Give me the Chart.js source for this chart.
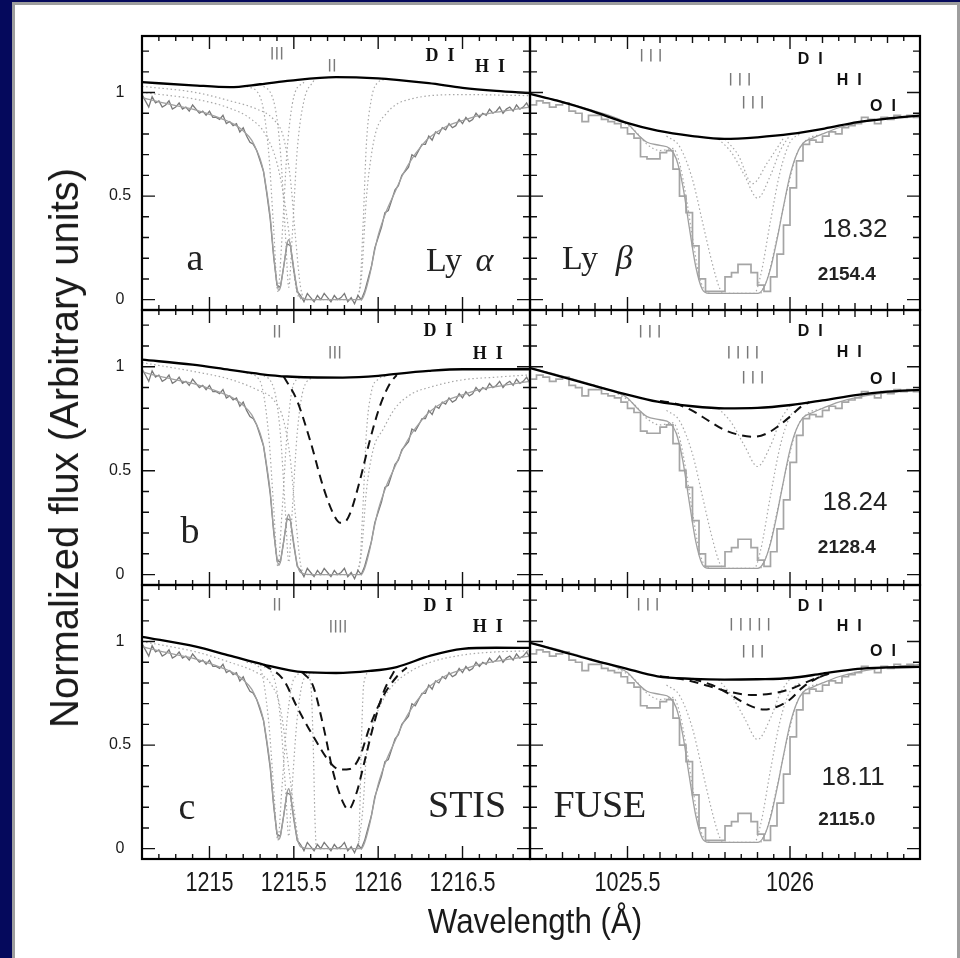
<!DOCTYPE html>
<html>
<head>
<meta charset="utf-8">
<script src="https://cdn.jsdelivr.net/npm/chart.js@4.4.1/dist/chart.umd.min.js"></script>
<style>
 html,body{margin:0;padding:0;width:960px;height:958px;overflow:hidden;background:#05095c;}
 #paper{position:absolute;left:12px;top:2px;width:948px;height:960px;box-sizing:border-box;background:#fff;border:3px solid #9e9e9e;}
 canvas{position:absolute;left:0;top:0;}
 .ttl{position:absolute;font-family:"Liberation Sans","DejaVu Sans",sans-serif;color:#1a1a1a;white-space:nowrap;line-height:1;}
 #ytitle{left:64px;top:448px;font-size:40px;transform:translate(-50%,-50%) rotate(-90deg);}
 #xtitle{left:535px;top:920px;font-size:34px;transform:translate(-50%,-50%) scale(0.92,1.05);}
</style>
</head>
<body>
<div id="paper"></div>
<canvas id="cLa" width="960" height="958"></canvas>
<canvas id="cRa" width="960" height="958"></canvas>
<canvas id="cLb" width="960" height="958"></canvas>
<canvas id="cRb" width="960" height="958"></canvas>
<canvas id="cLc" width="960" height="958"></canvas>
<canvas id="cRc" width="960" height="958"></canvas>
<div id="ytitle" class="ttl">Normalized flux (Arbitrary units)</div>
<div id="xtitle" class="ttl">Wavelength (Å)</div>
<script>
// ================= DATA =================
const xTicksLeft = [1215, 1215.5, 1216, 1216.5];
const xTickLabelsLeft = ['1215', '1215.5', '1216', '1216.5'];
const xTicksRight = [1025.5, 1026];
const xTickLabelsRight = ['1025.5', '1026'];
const yTicks = [0, 0.5, 1];
const yTickLabels = ['0', '0.5', '1'];

// STIS Ly-alpha spectrum (same data in the three left panels)
const stisSpectrum = [
[1214.60,0.99],[1214.62,0.96],[1214.64,0.93],[1214.66,0.98],[1214.68,0.95],[1214.70,0.96],[1214.72,0.93],[1214.74,0.94],[1214.76,0.96],[1214.78,0.92],
[1214.80,0.93],[1214.82,0.95],[1214.84,0.92],[1214.86,0.93],[1214.88,0.91],[1214.90,0.94],[1214.92,0.92],[1214.94,0.90],[1214.96,0.91],[1214.98,0.89],
[1215.00,0.91],[1215.02,0.88],[1215.04,0.88],[1215.06,0.87],[1215.08,0.89],[1215.10,0.85],[1215.12,0.86],[1215.14,0.84],[1215.16,0.85],[1215.18,0.81],
[1215.20,0.83],[1215.22,0.79],[1215.24,0.76],[1215.26,0.75],[1215.28,0.72],[1215.30,0.67],[1215.32,0.62],[1215.34,0.51],[1215.36,0.39],[1215.38,0.21],
[1215.40,0.07],[1215.42,0.06],[1215.44,0.16],[1215.46,0.27],[1215.48,0.26],[1215.50,0.14],[1215.52,0.04],[1215.54,0.02],[1215.56,-0.01],[1215.58,0.03],
[1215.60,0.01],[1215.62,-0.01],[1215.64,0.02],[1215.66,0.00],[1215.68,0.03],[1215.70,0.01],[1215.72,-0.01],[1215.74,0.02],[1215.76,0.00],[1215.78,0.01],
[1215.80,0.03],[1215.82,-0.01],[1215.84,0.01],[1215.86,-0.02],[1215.88,0.02],[1215.90,0.00],[1215.92,0.04],[1215.94,0.10],[1215.96,0.16],[1215.98,0.25],
[1216.00,0.30],[1216.02,0.35],[1216.04,0.42],[1216.06,0.43],[1216.08,0.48],[1216.10,0.53],[1216.12,0.55],[1216.14,0.60],[1216.16,0.62],[1216.18,0.64],
[1216.20,0.70],[1216.22,0.69],[1216.24,0.72],[1216.26,0.75],[1216.28,0.75],[1216.30,0.79],[1216.32,0.77],[1216.34,0.81],[1216.36,0.80],[1216.38,0.83],
[1216.40,0.82],[1216.42,0.85],[1216.44,0.83],[1216.46,0.84],[1216.48,0.87],[1216.50,0.85],[1216.52,0.88],[1216.54,0.86],[1216.56,0.87],[1216.58,0.90],
[1216.60,0.88],[1216.62,0.90],[1216.64,0.89],[1216.66,0.92],[1216.68,0.90],[1216.70,0.91],[1216.72,0.93],[1216.74,0.90],[1216.76,0.92],[1216.78,0.93],
[1216.80,0.91],[1216.82,0.94],[1216.84,0.92],[1216.86,0.93],[1216.88,0.95],[1216.90,0.92]
];

// FUSE Ly-beta spectrum (histogram, bin left edges)
const fuseWave = [1025.18,1025.20,1025.22,1025.24,1025.26,1025.28,1025.30,1025.32,1025.34,1025.36,1025.38,1025.40,1025.42,1025.44,1025.46,1025.48,1025.50,1025.52,1025.54,1025.56,1025.58,1025.60,1025.62,1025.64,1025.66,1025.68,1025.70,1025.72,1025.74,1025.76,1025.78,1025.80,1025.82,1025.84,1025.86,1025.88,1025.90,1025.92,1025.94,1025.96,1025.98,1026.00,1026.02,1026.04,1026.06,1026.08,1026.10,1026.12,1026.14,1026.16,1026.18,1026.20,1026.22,1026.24,1026.26,1026.28,1026.30,1026.32,1026.34,1026.36,1026.38,1026.40];
const fuseFlux = [0.95,0.94,0.96,0.95,0.93,0.94,0.95,0.91,0.90,0.86,0.89,0.89,0.87,0.86,0.85,0.83,0.80,0.78,0.69,0.68,0.68,0.71,0.72,0.63,0.50,0.42,0.26,0.10,0.04,0.04,0.04,0.11,0.13,0.17,0.17,0.13,0.07,0.04,0.11,0.22,0.36,0.54,0.67,0.75,0.77,0.76,0.79,0.81,0.80,0.83,0.84,0.85,0.88,0.87,0.85,0.88,0.87,0.89,0.88,0.89,0.88,0.88];

// total model profiles
const modelLya = [[1214.6,0.975],[1214.7,0.955],[1214.8,0.937],[1214.9,0.92],[1215.0,0.895],[1215.1,0.865],[1215.15,0.845],[1215.2,0.815],[1215.25,0.77],[1215.28,0.72],[1215.30,0.68],[1215.32,0.62],[1215.34,0.52],[1215.36,0.40],[1215.38,0.22],[1215.40,0.08],[1215.41,0.045],[1215.42,0.06],[1215.44,0.16],[1215.46,0.27],[1215.47,0.29],[1215.48,0.26],[1215.50,0.15],[1215.52,0.05],[1215.54,0.01],[1215.6,0],[1215.9,0],[1215.92,0.03],[1215.95,0.12],[1215.98,0.24],[1216.0,0.31],[1216.05,0.43],[1216.1,0.52],[1216.15,0.61],[1216.2,0.68],[1216.25,0.735],[1216.3,0.78],[1216.4,0.835],[1216.5,0.865],[1216.6,0.89],[1216.7,0.905],[1216.8,0.918],[1216.9,0.93]];
const modelLyb = [[1025.2,0.994],[1025.3,0.955],[1025.4,0.91],[1025.46,0.88],[1025.5,0.85],[1025.53,0.80],[1025.56,0.76],[1025.6,0.745],[1025.63,0.73],[1025.65,0.68],[1025.67,0.55],[1025.69,0.35],[1025.71,0.16],[1025.73,0.05],[1025.75,0.03],[1025.85,0.03],[1025.9,0.03],[1025.92,0.06],[1025.94,0.15],[1025.96,0.29],[1025.98,0.45],[1026.0,0.6],[1026.02,0.7],[1026.04,0.755],[1026.07,0.78],[1026.1,0.8],[1026.15,0.83],[1026.2,0.85],[1026.3,0.875],[1026.4,0.89]];

// continua
const contLa = [[1214.6,1.05],[1214.9,1.035],[1215.12,1.026],[1215.3,1.04],[1215.48,1.058],[1215.75,1.074],[1216.0,1.068],[1216.11,1.061],[1216.3,1.045],[1216.5,1.023],[1216.7,1.008],[1216.9,0.997]];
const contLb = [[1214.6,1.034],[1214.9,1.01],[1215.12,0.985],[1215.3,0.965],[1215.46,0.953],[1215.79,0.948],[1216.0,0.956],[1216.11,0.966],[1216.3,0.98],[1216.5,0.988],[1216.9,0.988]];
const contLc = [[1214.6,1.023],[1214.92,0.975],[1215.12,0.932],[1215.32,0.889],[1215.56,0.852],[1215.75,0.848],[1215.95,0.858],[1216.11,0.877],[1216.31,0.932],[1216.5,0.965],[1216.7,0.97],[1216.9,0.969]];
const contRa = [[1025.2,0.994],[1025.284,0.961],[1025.387,0.913],[1025.49,0.857],[1025.592,0.816],[1025.7,0.79],[1025.798,0.776],[1025.9,0.784],[1026.003,0.80],[1026.106,0.826],[1026.208,0.857],[1026.311,0.876],[1026.4,0.889]];
const contRb = [[1025.2,0.994],[1025.29,0.955],[1025.387,0.913],[1025.49,0.87],[1025.592,0.832],[1025.7,0.81],[1025.798,0.80],[1025.9,0.802],[1026.003,0.816],[1026.1,0.838],[1026.208,0.865],[1026.3,0.88],[1026.4,0.889]];
const contRc = [[1025.2,0.994],[1025.29,0.955],[1025.387,0.913],[1025.49,0.872],[1025.592,0.832],[1025.7,0.82],[1025.798,0.816],[1025.9,0.818],[1026.003,0.824],[1026.1,0.845],[1026.208,0.868],[1026.3,0.875],[1026.4,0.878]];

// dashed profiles (second H I component)
const dashLb = [[1215.44,0.953],[1215.517,0.841],[1215.596,0.647],[1215.675,0.42],[1215.734,0.293],[1215.773,0.25],[1215.80,0.252],[1215.833,0.293],[1215.892,0.454],[1215.951,0.647],[1216.01,0.81],[1216.07,0.92],[1216.11,0.96]];
const dashLc1 = [[1215.32,0.889],[1215.438,0.816],[1215.517,0.687],[1215.615,0.543],[1215.714,0.417],[1215.773,0.382],[1215.833,0.385],[1215.892,0.446],[1215.951,0.591],[1216.03,0.736],[1216.11,0.83],[1216.17,0.875]];
const dashLc2 = [[1215.55,0.852],[1215.615,0.784],[1215.675,0.591],[1215.734,0.366],[1215.793,0.221],[1215.823,0.189],[1215.872,0.27],[1215.912,0.397],[1215.971,0.591],[1216.03,0.752],[1216.09,0.85],[1216.11,0.877]];
const dashRb = [[1025.6,0.835],[1025.644,0.824],[1025.695,0.792],[1025.75,0.74],[1025.798,0.696],[1025.85,0.67],[1025.89,0.663],[1025.93,0.68],[1025.962,0.712],[1026.0,0.76],[1026.034,0.808],[1026.06,0.83]];
const dashRc1 = [[1025.6,0.833],[1025.68,0.815],[1025.75,0.785],[1025.82,0.755],[1025.88,0.742],[1025.94,0.748],[1026.0,0.77],[1026.06,0.81],[1026.11,0.84]];
const dashRc2 = [[1025.7,0.82],[1025.76,0.79],[1025.82,0.74],[1025.87,0.695],[1025.92,0.672],[1025.96,0.685],[1026.0,0.72],[1026.04,0.78],[1026.08,0.82],[1026.12,0.845]];

// dotted individual components
const dotLa1 = [[1214.6,1.03],[1214.92,1.0],[1215.12,0.96],[1215.28,0.92],[1215.38,0.87],[1215.44,0.78],[1215.48,0.58],[1215.51,0.3],[1215.54,0.06],[1215.57,0.0],[1215.86,0.0],[1215.89,0.05],[1215.91,0.35],[1215.93,0.75],[1215.96,0.97],[1216.0,1.05],[1216.05,1.065]];
const dotLa2 = [[1215.22,1.03],[1215.3,0.98],[1215.35,0.72],[1215.38,0.35],[1215.405,0.04],[1215.43,0.3],[1215.46,0.72],[1215.5,0.98],[1215.56,1.05]];
const dotLa3 = [[1215.87,0.0],[1215.9,0.1],[1215.93,0.49],[1215.96,0.7],[1215.99,0.82],[1216.05,0.9],[1216.11,0.944],[1216.2,0.97],[1216.31,0.985],[1216.5,0.99],[1216.9,0.985]];
const dotLa4 = [[1214.6,1.0],[1214.9,0.97],[1215.1,0.93],[1215.25,0.87],[1215.33,0.8],[1215.4,0.66],[1215.45,0.45],[1215.49,0.2],[1215.52,0.03],[1215.55,0.0]];
const dotLa5 = [[1215.3,1.04],[1215.38,0.96],[1215.42,0.72],[1215.45,0.32],[1215.47,0.06],[1215.49,0.3],[1215.52,0.72],[1215.56,0.96],[1215.62,1.06]];
const dotLb1 = [[1214.6,1.02],[1214.92,0.975],[1215.12,0.94],[1215.28,0.89],[1215.38,0.84],[1215.44,0.74],[1215.48,0.55],[1215.51,0.28],[1215.54,0.05],[1215.57,0.0],[1215.86,0.0],[1215.89,0.05],[1215.91,0.33],[1215.93,0.68],[1215.96,0.88],[1216.0,0.94],[1216.05,0.955]];
const dotLb2 = [[1215.22,0.97],[1215.3,0.93],[1215.35,0.68],[1215.38,0.33],[1215.405,0.04],[1215.43,0.3],[1215.46,0.68],[1215.5,0.92],[1215.56,0.952]];
const dotLb3 = [[1215.87,0.0],[1215.9,0.1],[1215.93,0.4],[1215.97,0.6],[1216.03,0.7],[1216.1,0.8],[1216.2,0.87],[1216.3,0.9],[1216.5,0.937],[1216.7,0.95],[1216.9,0.961]];
const dotLb5 = [[1215.3,0.965],[1215.38,0.9],[1215.42,0.68],[1215.45,0.3],[1215.47,0.06],[1215.49,0.3],[1215.52,0.68],[1215.56,0.9],[1215.62,0.95]];
const dotLc1 = [[1214.6,1.0],[1214.92,0.95],[1215.12,0.9],[1215.28,0.85],[1215.36,0.8],[1215.42,0.68],[1215.46,0.45],[1215.5,0.2],[1215.53,0.03],[1215.56,0.0]];
const dotLc2 = [[1215.22,0.9],[1215.3,0.87],[1215.35,0.62],[1215.38,0.3],[1215.405,0.04],[1215.43,0.3],[1215.46,0.62],[1215.5,0.82],[1215.56,0.85]];
const dotLc3 = [[1215.57,0.85],[1215.6,0.8],[1215.615,0.5],[1215.625,0.15],[1215.635,0.0],[1215.88,0.0],[1215.89,0.15],[1215.9,0.5],[1215.915,0.8],[1215.95,0.855]];
const dotLc4 = [[1215.88,0.0],[1215.91,0.2],[1215.93,0.45],[1215.97,0.6],[1216.03,0.72],[1216.1,0.8],[1216.2,0.86],[1216.31,0.9],[1216.5,0.935],[1216.7,0.95],[1216.9,0.955]];
const dotLc5 = [[1215.3,0.885],[1215.38,0.83],[1215.42,0.63],[1215.45,0.3],[1215.47,0.06],[1215.49,0.3],[1215.52,0.63],[1215.56,0.82],[1215.62,0.85]];
const dotR1 = [[1025.62,0.79],[1025.66,0.74],[1025.7,0.58],[1025.73,0.38],[1025.76,0.18],[1025.785,0.05],[1025.8,0.03],[1025.89,0.03],[1025.91,0.12],[1025.94,0.38],[1025.97,0.62],[1026.0,0.76],[1026.03,0.8]];
const dotR4 = [[1025.47,0.87],[1025.52,0.82],[1025.56,0.75],[1025.6,0.72],[1025.64,0.73],[1025.66,0.66],[1025.68,0.5],[1025.7,0.3],[1025.72,0.12],[1025.74,0.04],[1025.76,0.03]];
const dotR5 = [[1025.91,0.03],[1025.93,0.1],[1025.96,0.3],[1025.99,0.52],[1026.02,0.7],[1026.05,0.77],[1026.1,0.8]];
const dotRa2 = [[1025.78,0.776],[1025.82,0.71],[1025.86,0.6],[1025.9,0.49],[1025.94,0.6],[1025.97,0.72],[1026.0,0.795]];
const dotRa3 = [[1025.8,0.776],[1025.84,0.7],[1025.885,0.56],[1025.93,0.66],[1025.98,0.78]];
const dotRb2 = [[1025.78,0.80],[1025.82,0.73],[1025.86,0.62],[1025.9,0.52],[1025.94,0.62],[1025.97,0.74],[1026.0,0.815]];
const dotRc2 = [[1025.78,0.816],[1025.82,0.74],[1025.86,0.63],[1025.9,0.527],[1025.94,0.63],[1025.97,0.75],[1026.0,0.82]];

// ================= STYLE / LAYOUT =================
const X_RANGE = { L: [1214.6, 1216.9], R: [1025.2, 1026.4] };
const Y_RANGE = [-0.05, 1.273];
const COLS = { L: [142, 530], R: [530, 920] };
const ROWS = [[36, 310], [310, 585], [585, 859]];

const STY = {
  obs:   { borderColor: '#7a7a7a', borderWidth: 1.3 },
  model: { borderColor: '#a0a0a0', borderWidth: 1.3, cubicInterpolationMode: 'monotone' },
  cont:  { borderColor: '#000000', borderWidth: 2.3, cubicInterpolationMode: 'monotone' },
  dash:  { borderColor: '#111111', borderWidth: 2, borderDash: [9, 6], cubicInterpolationMode: 'monotone' },
  dot:   { borderColor: '#a8a8a8', borderWidth: 1.2, borderDash: [1.5, 2.6], cubicInterpolationMode: 'monotone' },
  hist:  { borderColor: '#a5a5a5', borderWidth: 1.7, stepped: 'before' }
};

const F_BAR = 'bold 13px "DejaVu Sans"';
const F_IONL = 'bold 18px "Liberation Serif"';
const F_IONR = 'bold 16px "Liberation Sans"';
const F_LET = '38px "Liberation Serif"';
const F_LY = '34px "Liberation Serif"';
const F_GR = 'italic 34px "Liberation Serif"';
const F_BIG = '38px "Liberation Serif"';
const F_NUM = '26px "Liberation Sans"';
const F_NUM2 = 'bold 19px "Liberation Sans"';

function P(arr) { return arr.map(p => ({ x: p[0], y: p[1] })); }
function P2(xs, ys) { return xs.map((x, i) => ({ x: x, y: ys[i] })); }

const stisPts = () => P(stisSpectrum);
const fusePts = () => P2(fuseWave, fuseFlux);

const panels = [
  { id: 'cLa', col: 'L', row: 0,
    curves: [['cont', P(contLa)], ['model', P(modelLya)], ['obs', stisPts()], ['dot', P(dotLa1)], ['dot', P(dotLa2)], ['dot', P(dotLa3)], ['dot', P(dotLa4)], ['dot', P(dotLa5)]],
    labels: [
      { t: '|||', x: 1215.40, y: 1.19, f: F_BAR, c: '#7a7a7a' },
      { t: '||', x: 1215.726, y: 1.13, f: F_BAR, c: '#7a7a7a' },
      { t: 'D  I', x: 1216.367, y: 1.176, f: F_IONL, c: '#111' },
      { t: 'H  I', x: 1216.663, y: 1.123, f: F_IONL, c: '#111' },
      { t: 'a', x: 1214.914, y: 0.19, f: F_LET, c: '#222' },
      { t: 'Ly', x: 1216.39, y: 0.18, f: F_LY, c: '#222' },
      { t: 'α', x: 1216.63, y: 0.18, f: F_GR, c: '#222' }
    ] },
  { id: 'cRa', col: 'R', row: 0,
    curves: [['cont', P(contRa)], ['model', P(modelLyb)], ['hist', fusePts()], ['dot', P(dotR1)], ['dot', P(dotR4)], ['dot', P(dotR5)], ['dot', P(dotRa2)], ['dot', P(dotRa3)]],
    labels: [
      { t: '| | |', x: 1025.572, y: 1.18, f: F_BAR, c: '#777' },
      { t: '| | |', x: 1025.846, y: 1.06, f: F_BAR, c: '#777' },
      { t: '| | |', x: 1025.886, y: 0.95, f: F_BAR, c: '#777' },
      { t: 'D  I', x: 1026.062, y: 1.157, f: F_IONR, c: '#111' },
      { t: 'H  I', x: 1026.182, y: 1.06, f: F_IONR, c: '#111' },
      { t: 'O  I', x: 1026.286, y: 0.93, f: F_IONR, c: '#111' },
      { t: 'Ly', x: 1025.354, y: 0.19, f: F_LY, c: '#222' },
      { t: 'β', x: 1025.49, y: 0.19, f: F_GR, c: '#222' },
      { t: '18.32', x: 1026.2, y: 0.335, f: F_NUM, c: '#222' },
      { t: '2154.4', x: 1026.175, y: 0.118, f: F_NUM2, c: '#222' }
    ] },
  { id: 'cLb', col: 'L', row: 1,
    curves: [['cont', P(contLb)], ['dash', P(dashLb)], ['model', P(modelLya)], ['obs', stisPts()], ['dot', P(dotLb1)], ['dot', P(dotLb2)], ['dot', P(dotLb3)], ['dot', P(dotLb5)]],
    labels: [
      { t: '||', x: 1215.40, y: 1.17, f: F_BAR, c: '#7a7a7a' },
      { t: '|||', x: 1215.744, y: 1.07, f: F_BAR, c: '#7a7a7a' },
      { t: 'D  I', x: 1216.355, y: 1.17, f: F_IONL, c: '#111' },
      { t: 'H  I', x: 1216.65, y: 1.06, f: F_IONL, c: '#111' },
      { t: 'b', x: 1214.885, y: 0.2, f: F_LET, c: '#222' }
    ] },
  { id: 'cRb', col: 'R', row: 1,
    curves: [['cont', P(contRb)], ['dash', P(dashRb)], ['model', P(modelLyb)], ['hist', fusePts()], ['dot', P(dotR1)], ['dot', P(dotR4)], ['dot', P(dotR5)], ['dot', P(dotRb2)]],
    labels: [
      { t: '| | |', x: 1025.569, y: 1.17, f: F_BAR, c: '#777' },
      { t: '| | | |', x: 1025.855, y: 1.07, f: F_BAR, c: '#777' },
      { t: '| | |', x: 1025.886, y: 0.95, f: F_BAR, c: '#777' },
      { t: 'D  I', x: 1026.062, y: 1.17, f: F_IONR, c: '#111' },
      { t: 'H  I', x: 1026.182, y: 1.07, f: F_IONR, c: '#111' },
      { t: 'O  I', x: 1026.286, y: 0.94, f: F_IONR, c: '#111' },
      { t: '18.24', x: 1026.2, y: 0.345, f: F_NUM, c: '#222' },
      { t: '2128.4', x: 1026.175, y: 0.13, f: F_NUM2, c: '#222' }
    ] },
  { id: 'cLc', col: 'L', row: 2,
    curves: [['cont', P(contLc)], ['dash', P(dashLc1)], ['dash', P(dashLc2)], ['model', P(modelLya)], ['obs', stisPts()], ['dot', P(dotLc1)], ['dot', P(dotLc2)], ['dot', P(dotLc3)], ['dot', P(dotLc4)], ['dot', P(dotLc5)]],
    labels: [
      { t: '||', x: 1215.40, y: 1.18, f: F_BAR, c: '#7a7a7a' },
      { t: '||||', x: 1215.762, y: 1.07, f: F_BAR, c: '#7a7a7a' },
      { t: 'D  I', x: 1216.355, y: 1.17, f: F_IONL, c: '#111' },
      { t: 'H  I', x: 1216.65, y: 1.07, f: F_IONL, c: '#111' },
      { t: 'c', x: 1214.867, y: 0.19, f: F_LET, c: '#222' },
      { t: 'STIS', x: 1216.527, y: 0.2, f: F_BIG, c: '#222' }
    ] },
  { id: 'cRc', col: 'R', row: 2,
    curves: [['cont', P(contRc)], ['dash', P(dashRc1)], ['dash', P(dashRc2)], ['model', P(modelLyb)], ['hist', fusePts()], ['dot', P(dotR1)], ['dot', P(dotR4)], ['dot', P(dotR5)], ['dot', P(dotRc2)]],
    labels: [
      { t: '| | |', x: 1025.563, y: 1.18, f: F_BAR, c: '#777' },
      { t: '| | | | |', x: 1025.877, y: 1.08, f: F_BAR, c: '#777' },
      { t: '| | |', x: 1025.886, y: 0.95, f: F_BAR, c: '#777' },
      { t: 'D  I', x: 1026.062, y: 1.17, f: F_IONR, c: '#111' },
      { t: 'H  I', x: 1026.182, y: 1.07, f: F_IONR, c: '#111' },
      { t: 'O  I', x: 1026.286, y: 0.95, f: F_IONR, c: '#111' },
      { t: 'FUSE', x: 1025.415, y: 0.2, f: F_BIG, c: '#222' },
      { t: '18.11', x: 1026.194, y: 0.343, f: F_NUM, c: '#222' },
      { t: '2115.0', x: 1026.175, y: 0.14, f: F_NUM2, c: '#222' }
    ] }
];

// ================= PLUGINS =================
function multiples(min, max, step) {
  const out = [];
  const k0 = Math.ceil(min / step - 1e-9), k1 = Math.floor(max / step + 1e-9);
  for (let k = k0; k <= k1; k++) out.push(+(k * step).toFixed(6));
  return out;
}
function isMult(v, step) { const r = v / step; return Math.abs(r - Math.round(r)) < 1e-6; }

const frameTicks = {
  id: 'frameTicks',
  afterDatasetsDraw(chart, args, o) {
    const { ctx, chartArea: a, scales: { x, y } } = chart;
    ctx.save();
    ctx.strokeStyle = '#111';
    ctx.lineWidth = 1.4;
    ctx.beginPath();
    multiples(x.min, x.max, o.xFine).forEach(v => {
      const px = x.getPixelForValue(v);
      if (px < a.left + 2 || px > a.right - 2) return;
      let L = 5;
      if (o.xMid && isMult(v, o.xMid)) L = 7;
      if (isMult(v, 0.5)) L = 13;
      ctx.moveTo(px, a.top); ctx.lineTo(px, a.top + L);
      ctx.moveTo(px, a.bottom); ctx.lineTo(px, a.bottom - L);
    });
    multiples(0, 1.2, 0.1).forEach(v => {
      const py = y.getPixelForValue(v);
      const L = isMult(v, 0.5) ? 13 : 7;
      ctx.moveTo(a.left, py); ctx.lineTo(a.left + L, py);
      ctx.moveTo(a.right, py); ctx.lineTo(a.right - L, py);
    });
    ctx.stroke();
    ctx.lineWidth = 2.2;
    ctx.strokeStyle = '#000';
    ctx.strokeRect(a.left, a.top, a.right - a.left, a.bottom - a.top);

    ctx.fillStyle = '#1a1a1a';
    ctx.textAlign = 'center';
    ctx.textBaseline = 'middle';
    if (o.yLabels) {
      ctx.font = '16px "Liberation Sans"';
      yTicks.forEach((v, i) => ctx.fillText(yTickLabels[i], a.left - 22, y.getPixelForValue(v)));
    }
    if (o.xLabels) {
      ctx.font = '27px "Liberation Sans"';
      o.xLabels.ticks.forEach((v, i) => {
        ctx.save();
        ctx.translate(x.getPixelForValue(v), a.bottom + 25);
        ctx.scale(0.8, 1);
        ctx.fillText(o.xLabels.labels[i], 0, 0);
        ctx.restore();
      });
    }
    ctx.restore();
  }
};

const panelText = {
  id: 'panelText',
  afterDatasetsDraw(chart, args, o) {
    const { ctx, scales: { x, y } } = chart;
    ctx.save();
    ctx.textAlign = 'center';
    ctx.textBaseline = 'middle';
    (o.items || []).forEach(it => {
      ctx.font = it.f;
      ctx.fillStyle = it.c;
      ctx.fillText(it.t, x.getPixelForValue(it.x), y.getPixelForValue(it.y));
    });
    ctx.restore();
  }
};

// ================= BUILD =================
panels.forEach(p => {
  const [c0, c1] = COLS[p.col];
  const [r0, r1] = ROWS[p.row];
  const xr = X_RANGE[p.col];
  const datasets = p.curves.map(([kind, data]) => Object.assign({ data: data, pointRadius: 0, fill: false, tension: 0 }, STY[kind]));
  new Chart(document.getElementById(p.id), {
    type: 'line',
    data: { datasets: datasets },
    options: {
      responsive: false, animation: false, events: [],
      layout: { padding: { left: c0, right: 960 - c1, top: r0, bottom: 958 - r1 } },
      scales: {
        x: { type: 'linear', min: xr[0], max: xr[1], display: false },
        y: { type: 'linear', min: Y_RANGE[0], max: Y_RANGE[1], display: false }
      },
      plugins: {
        legend: { display: false }, tooltip: { enabled: false },
        frameTicks: {
          xFine: p.col === 'L' ? 0.1 : 0.05,
          xMid: p.col === 'L' ? null : 0.1,
          yLabels: p.col === 'L',
          xLabels: p.row === 2 ? (p.col === 'L' ? { ticks: xTicksLeft, labels: xTickLabelsLeft } : { ticks: xTicksRight, labels: xTickLabelsRight }) : null
        },
        panelText: { items: p.labels }
      }
    },
    plugins: [frameTicks, panelText]
  });
});
</script>
</body>
</html>
